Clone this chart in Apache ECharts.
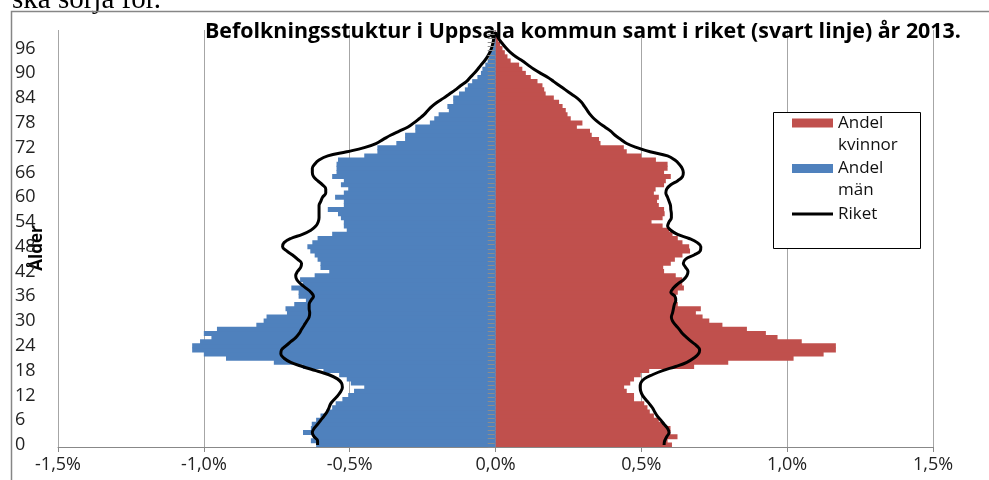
<!DOCTYPE html>
<html>
<head>
<meta charset="utf-8">
<script src="https://cdn.jsdelivr.net/npm/echarts@6/dist/echarts.min.js"></script>
<style>
  html, body { margin: 0; padding: 0; background: #fff; }
  #main { width: 989px; height: 480px; }
</style>
</head>
<body>
<div id="main"></div>
<script>
// ages 0..100
const ages = Array.from({ length: 101 }, (_, i) => String(i));

// Uppsala kommun, share of population (%) per age, 0..100
const women = [
  0.605, 0.59, 0.624, 0.60, 0.60, 0.577, 0.56, 0.543, 0.529, 0.521,
  0.51, 0.475, 0.475, 0.45, 0.441, 0.462, 0.475, 0.498, 0.527, 0.681,
  0.798, 1.022, 1.125, 1.167, 1.167, 1.05, 0.967, 0.927, 0.862, 0.778,
  0.733, 0.71, 0.687, 0.704, 0.625, 0.62, 0.618, 0.625, 0.646, 0.64,
  0.64, 0.618, 0.578, 0.575, 0.601, 0.615, 0.641, 0.667, 0.664, 0.641,
  0.625, 0.607, 0.595, 0.573, 0.535, 0.573, 0.58, 0.578, 0.56, 0.554,
  0.56, 0.543, 0.549, 0.578, 0.584, 0.601, 0.578, 0.59, 0.59, 0.55,
  0.50, 0.45, 0.44, 0.36, 0.355, 0.33, 0.324, 0.279, 0.298, 0.258,
  0.247, 0.241, 0.23, 0.218, 0.2, 0.172, 0.167, 0.161, 0.144, 0.121,
  0.104, 0.092, 0.081, 0.052, 0.041, 0.032, 0.024, 0.016, 0.01, 0.005,
  0.002
];
const men = [
  -0.615, -0.633, -0.62, -0.66, -0.633, -0.63, -0.615, -0.60, -0.58, -0.56,
  -0.548, -0.525, -0.505, -0.485, -0.45, -0.496, -0.51, -0.536, -0.59, -0.66,
  -0.76, -0.924, -1.0, -1.04, -1.04, -1.013, -0.974, -1.0, -0.955, -0.82,
  -0.795, -0.785, -0.715, -0.72, -0.69, -0.65, -0.675, -0.675, -0.70, -0.66,
  -0.67, -0.62, -0.57, -0.60, -0.60, -0.61, -0.62, -0.635, -0.645, -0.628,
  -0.61, -0.56, -0.51, -0.52, -0.52, -0.53, -0.54, -0.575, -0.52, -0.52,
  -0.55, -0.52, -0.505, -0.53, -0.52, -0.56, -0.545, -0.545, -0.545, -0.54,
  -0.45, -0.405, -0.405, -0.34, -0.31, -0.31, -0.275, -0.275, -0.225, -0.21,
  -0.195, -0.16, -0.165, -0.145, -0.145, -0.125, -0.105, -0.095, -0.08, -0.062,
  -0.05, -0.045, -0.035, -0.027, -0.022, -0.016, -0.011, -0.007, -0.004, -0.002,
  -0.001
];
// riket (whole country), same ages
const riketWomen = [
  0.578, 0.58, 0.587, 0.595, 0.59, 0.578, 0.567, 0.555, 0.546, 0.538,
  0.527, 0.515, 0.504, 0.498, 0.496, 0.498, 0.51, 0.538, 0.573, 0.618,
  0.656, 0.679, 0.695, 0.70, 0.69, 0.672, 0.656, 0.641, 0.63, 0.618,
  0.607, 0.603, 0.607, 0.61, 0.613, 0.618, 0.615, 0.601, 0.61, 0.625,
  0.644, 0.656, 0.66, 0.652, 0.644, 0.652, 0.681, 0.702, 0.704, 0.692,
  0.664, 0.624, 0.601, 0.59, 0.595, 0.603, 0.603, 0.601, 0.60, 0.595,
  0.59, 0.584, 0.587, 0.601, 0.625, 0.641, 0.644, 0.64, 0.63, 0.615,
  0.59, 0.53, 0.485, 0.45, 0.43, 0.41, 0.395, 0.375, 0.355, 0.338,
  0.325, 0.315, 0.305, 0.295, 0.28, 0.26, 0.24, 0.22, 0.20, 0.18,
  0.155, 0.132, 0.112, 0.093, 0.07, 0.052, 0.038, 0.026, 0.015, 0.006,
  0.001
];
const riketMen = [
  -0.61, -0.61, -0.622, -0.628, -0.622, -0.61, -0.599, -0.588, -0.578, -0.571,
  -0.565, -0.553, -0.54, -0.53, -0.525, -0.528, -0.542, -0.571, -0.616, -0.662,
  -0.702, -0.725, -0.736, -0.734, -0.719, -0.702, -0.685, -0.673, -0.665, -0.656,
  -0.647, -0.639, -0.637, -0.639, -0.639, -0.633, -0.624, -0.633, -0.65, -0.668,
  -0.681, -0.685, -0.679, -0.668, -0.665, -0.679, -0.696, -0.716, -0.73, -0.725,
  -0.702, -0.662, -0.633, -0.616, -0.608, -0.605, -0.605, -0.605, -0.605, -0.599,
  -0.593, -0.582, -0.582, -0.593, -0.61, -0.624, -0.628, -0.628, -0.62, -0.605,
  -0.575, -0.51, -0.45, -0.41, -0.385, -0.36, -0.33, -0.30, -0.28, -0.262,
  -0.245, -0.232, -0.218, -0.20, -0.178, -0.158, -0.138, -0.12, -0.10, -0.087,
  -0.073, -0.061, -0.05, -0.038, -0.028, -0.02, -0.014, -0.01, -0.007, -0.004,
  0
];

const font = 'Open Sans';
const chart = echarts.init(document.getElementById('main'));

chart.setOption({
  animation: false,
  backgroundColor: '#fff',
  title: {
    text: 'Befolkningsstuktur i Uppsala kommun samt i riket (svart linje) år 2013.',
    left: 205,
    top: 21,
    padding: 0,
    textStyle: { fontFamily: font, fontWeight: 'bold', fontSize: 21.4, color: '#000' }
  },
  legend: {
    orient: 'vertical',
    left: 792,
    top: 90,
    padding: 0,
    z: 6,
    itemWidth: 41,
    itemHeight: 9,
    itemGap: -20.5,
    selectedMode: false,
    // one blank line above and below keeps the first word level with the icon
    formatter: name => ' \n' + name.replace(' ', '\n') + (name.indexOf(' ') < 0 ? '\n ' : ''),
    textStyle: { fontFamily: font, fontSize: 17, color: '#111', lineHeight: 22 },
    data: [
      { name: 'Andel kvinnor', icon: 'rect' },
      { name: 'Andel män', icon: 'rect' },
      { name: 'Riket', icon: 'path://M0,0H41V3H0Z' }
    ]
  },
  grid: { left: 58, right: 56, top: 30, bottom: 33, containLabel: false, outerBoundsMode: 'none' },
  xAxis: {
    type: 'value',
    min: -1.5,
    max: 1.5,
    interval: 0.5,
    axisLine: { show: true, onZero: false, lineStyle: { color: '#888', width: 1 } },
    axisTick: { show: true, length: 5, lineStyle: { color: '#888' } },
    axisLabel: {
      margin: 9,
      fontFamily: font,
      fontSize: 18,
      color: '#222',
      formatter: v => v.toFixed(1).replace('.', ',') + '%'
    },
    splitLine: { show: true, lineStyle: { color: '#a6a6a6', width: 1 } }
  },
  yAxis: [
    {
      type: 'category',
      data: ages,
      position: 'left',
      axisLine: { show: false },
      axisTick: { show: false },
      axisLabel: {
        interval: 5,
        align: 'left',
        margin: 43,
        fontFamily: font,
        fontSize: 18,
        color: '#222'
      }
    },
    {
      type: 'category',
      data: ages,
      position: 'left',
      offset: -436.7,
      z: 10,
      axisLine: { show: false },
      axisTick: { show: true, interval: 0, length: 7, lineStyle: { color: '#8c8c8c' } },
      axisLabel: { show: false }
    }
  ],
  graphic: [
    {
      type: 'text',
      left: 12,
      top: -14,
      style: { text: 'ska sörja för.', fontFamily: 'Liberation Serif', fontSize: 29, fill: '#000' }
    },
    {
      type: 'rect',
      shape: { x: 11.5, y: 11.5, width: 1000, height: 500 },
      style: { fill: null, stroke: '#868686', lineWidth: 1.5 },
      silent: true
    },
    {
      type: 'rect',
      shape: { x: 773.5, y: 112.5, width: 147, height: 136 },
      style: { fill: '#fff', stroke: '#000', lineWidth: 1 },
      z: 3,
      silent: true
    },
    {
      type: 'text',
      x: 37,
      y: 248,
      rotation: Math.PI / 2,
      style: {
        text: 'Ålder',
        fontFamily: font,
        fontWeight: 'bold',
        fontSize: 17,
        fill: '#000',
        align: 'center',
        verticalAlign: 'middle'
      }
    }
  ],
  series: [
    {
      name: 'Andel kvinnor',
      type: 'bar',
      data: women,
      barGap: '-100%',
      barWidth: 5,
      itemStyle: { color: '#C0504D' }
    },
    {
      name: 'Andel män',
      type: 'bar',
      data: men,
      barGap: '-100%',
      barWidth: 5,
      itemStyle: { color: '#4F81BD' }
    },
    {
      name: 'Riket',
      type: 'line',
      data: riketWomen,
      smooth: 0.4,
      symbol: 'none',
      lineStyle: { color: '#000', width: 3 },
      itemStyle: { color: '#000' },
      z: 4
    },
    {
      name: 'Riket',
      type: 'line',
      data: riketMen,
      smooth: 0.4,
      symbol: 'none',
      lineStyle: { color: '#000', width: 3 },
      itemStyle: { color: '#000' },
      z: 4
    }
  ]
});
</script>
</body>
</html>
